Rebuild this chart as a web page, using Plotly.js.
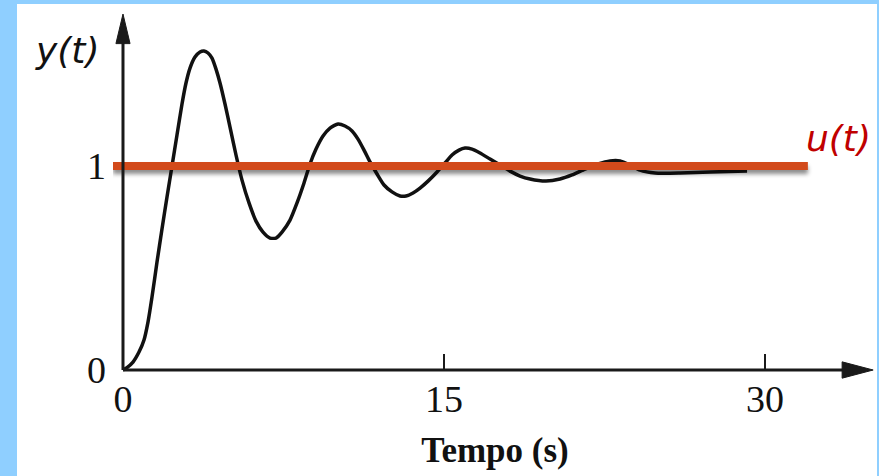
<!DOCTYPE html>
<html>
<head>
<meta charset="utf-8">
<script src="https://cdn.plot.ly/plotly-3.0.1.min.js"></script>
<style>
  html, body { margin: 0; padding: 0; background: #8FCFFF; width: 879px; height: 476px; overflow: hidden; }
  #chart { position: absolute; left: 17px; top: 4px; width: 860px; height: 472px; background: #ffffff; }
  .scatterlayer .trace:nth-child(2) .js-line { filter: drop-shadow(0px 4px 2px rgba(0,0,0,0.45)); }
</style>
</head>
<body>
<div id="chart"></div>
<script>
// Step response y(t)
const tValues = [0, 0.187, 0.467, 0.748, 0.981, 1.168, 1.355, 1.589, 1.822, 2.056, 2.290, 2.523, 2.757, 2.944, 3.131, 3.364, 3.598, 3.785, 3.972, 4.159, 4.346, 4.533, 4.766, 5.000, 5.280, 5.561, 5.888, 6.215, 6.542, 6.869, 7.150, 7.430, 7.804, 8.131, 8.458, 8.738, 9.019, 9.346, 9.673, 10.047, 10.374, 10.701, 10.981, 11.262, 11.542, 11.869, 12.196, 12.570, 12.944, 13.224, 13.551, 13.879, 14.252, 14.673, 15.047, 15.374, 15.701, 15.981, 16.308, 16.682, 17.150, 17.617, 18.084, 18.551, 19.019, 19.766, 20.421, 20.981, 21.589, 22.196, 22.757, 23.224, 23.692, 24.159, 24.860, 26.028, 27.430, 29.159];
const yValues = [0, 0.012, 0.039, 0.088, 0.147, 0.235, 0.358, 0.529, 0.691, 0.848, 1.000, 1.152, 1.304, 1.407, 1.480, 1.534, 1.559, 1.564, 1.554, 1.529, 1.475, 1.407, 1.304, 1.191, 1.054, 0.931, 0.819, 0.730, 0.676, 0.647, 0.647, 0.676, 0.735, 0.819, 0.917, 1.010, 1.083, 1.147, 1.186, 1.206, 1.196, 1.172, 1.132, 1.078, 1.020, 0.961, 0.907, 0.873, 0.853, 0.853, 0.868, 0.892, 0.926, 0.971, 1.015, 1.054, 1.078, 1.088, 1.083, 1.064, 1.034, 1.005, 0.975, 0.951, 0.936, 0.926, 0.936, 0.956, 0.985, 1.010, 1.025, 1.025, 1.005, 0.980, 0.966, 0.966, 0.971, 0.975];
// Input u(t) = 1
const uT = [-0.47, 32.0];
const uValues = [1, 1];
// Tick labels
const xTickVals = [0, 15, 30];
const xTickText = ['0', '15', '30'];
const yTickVals = [0, 1];
const yTickText = ['0', '1'];

const traces = [
  { x: tValues, y: yValues, type: 'scatter', mode: 'lines',
    line: { color: '#111111', width: 3.5, shape: 'spline', smoothing: 0.6 }, hoverinfo: 'skip' },
  { x: uT, y: uValues, type: 'scatter', mode: 'lines',
    line: { color: '#D24A1B', width: 8 }, hoverinfo: 'skip' }
];

const axisColor = '#1a1a1a';
const layout = {
  width: 860, height: 472,
  margin: { l: 96, r: 0, t: 8, b: 0 },
  paper_bgcolor: '#ffffff', plot_bgcolor: 'rgba(0,0,0,0)',
  showlegend: false,
  xaxis: {
    range: [-0.467, 35.23], anchor: 'free', position: 0.2284,
    tickvals: xTickVals, ticktext: xTickText,
    ticks: 'inside', ticklen: 16, tickwidth: 2.5, tickcolor: axisColor,
    ticklabelstandoff: 3,
    showline: false, showgrid: false, zeroline: false,
    tickfont: { family: 'Liberation Serif', size: 38, color: '#111111' },
    title: { text: 'Tempo (s)', standoff: 18,
      font: { family: 'Liberation Serif', size: 35, color: '#111111', weight: 'bold' } },
    fixedrange: true
  },
  yaxis: {
    range: [-0.5196, 1.755],
    tickvals: yTickVals, ticktext: yTickText,
    ticks: '', showline: false, showgrid: false, zeroline: false,
    ticklabelstandoff: 6,
    tickfont: { family: 'Liberation Serif', size: 38, color: '#111111' },
    fixedrange: true
  },
  shapes: [
    { type: 'line', xref: 'x', yref: 'y', x0: 0, y0: 0, x1: 0, y1: 1.62, line: { color: axisColor, width: 3 } },
    { type: 'path', xref: 'x', yref: 'y', path: 'M 0 1.745 L -0.33 1.60 L 0.33 1.60 Z', fillcolor: axisColor, line: { color: axisColor, width: 1 } },
    { type: 'line', xref: 'x', yref: 'y', x0: 0, y0: 0, x1: 33.8, y1: 0, line: { color: axisColor, width: 3 } },
    { type: 'path', xref: 'x', yref: 'y', path: 'M 35.05 0 L 33.6 0.04 L 33.6 -0.04 Z', fillcolor: axisColor, line: { color: axisColor, width: 1 } }
  ],
  annotations: [
    { xref: 'paper', yref: 'paper', x: -0.0602, y: 0.9181, xanchor: 'center', yanchor: 'middle',
      text: 'y(t)', showarrow: false,
      font: { family: 'DejaVu Sans', size: 36, color: '#111111', style: 'italic' } },
    { xref: 'paper', yref: 'paper', x: 0.9045, y: 0.7284, xanchor: 'left', yanchor: 'middle',
      text: 'u(t)', showarrow: false,
      font: { family: 'DejaVu Sans', size: 36, color: '#C00000', style: 'italic' } }
  ]
};

Plotly.newPlot('chart', traces, layout, { staticPlot: true, displayModeBar: false });
</script>
</body>
</html>
